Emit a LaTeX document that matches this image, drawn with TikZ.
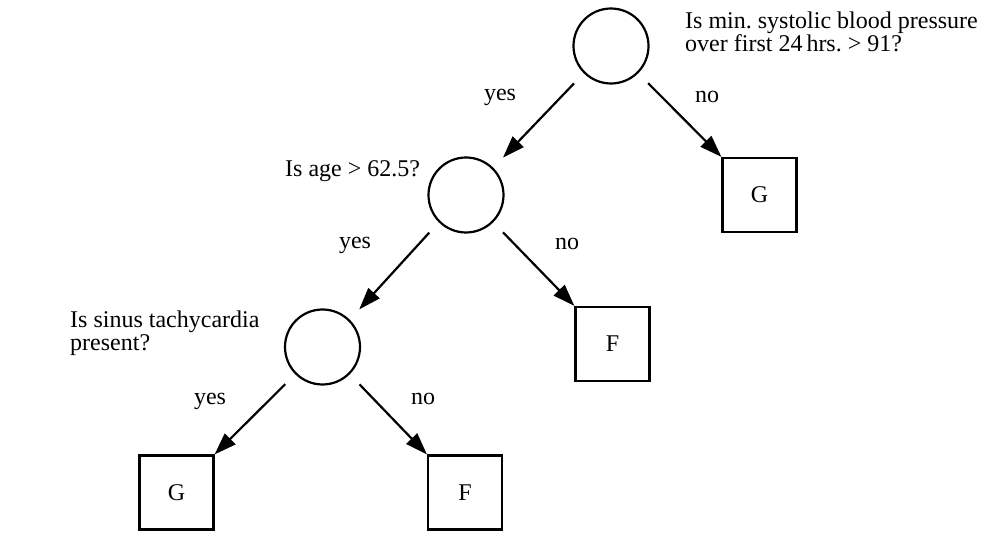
\documentclass[tikz,border=0pt]{standalone}
\usepackage{fontspec}
\setmainfont{Liberation Serif}
\usetikzlibrary{arrows.meta}
\begin{document}
\begin{tikzpicture}[x=1pt,y=-1pt,
  every node/.style={font=\fontsize{24}{23}\selectfont\frenchspacing},
  test/.style={circle, draw, line width=2.2pt, minimum size=75pt, inner sep=0pt},
  leaf/.style={rectangle, draw, line width=2.2pt, minimum size=74pt, inner sep=0pt},
  arr/.style={line width=2.2pt, -{Triangle[length=22pt,width=15pt]}, shorten <=14pt},
  arrc/.style={arr, shorten >=14pt},
  lbl/.style={anchor=base, inner sep=0pt},
  q/.style={anchor=north west, inner sep=0pt, align=left}]
\useasboundingbox (0,0) rectangle (991,534);
% tests
\node[test] (c1) at (611,46) {};
\node[test] (c2) at (466,195) {};
\node[test] (c3) at (322.5,347) {};
% leaves
\node[leaf] (g1) at (759.5,195) {G};
\node[leaf] (f1) at (612.5,344) {F};
\node[leaf] (g2) at (176.5,492.5) {G};
\node[leaf] (f2) at (465,492.5) {F};
% questions
\node[q] (q1) at (685,12) {Is min. systolic blood pressure\\over first 24\,hrs. > 91?};
\node[q, anchor=base west] (q2) at (285,177) {Is age > 62.5?};
\node[q] (q3) at (70,311) {Is sinus tachycardia\\present?};
% connectors
\draw[arrc] (c1.-135) -- (c2.45);
\draw[arr] (c1.-45) -- (g1.north west);
\draw[arrc] (c2.-135) -- (c3.45);
\draw[arr] (c2.-45) -- (f1.north west);
\draw[arr] (c3.-135) -- (g2.north east);
\draw[arr] (c3.-45) -- (f2.north west);
% labels
\node[lbl] (y1) at (500,101) {yes};
\node[lbl] (n1) at (707,103) {no};
\node[lbl] (y2) at (355,249) {yes};
\node[lbl] (n2) at (567,250) {no};
\node[lbl] (y3) at (210,405) {yes};
\node[lbl] (n3) at (423,405) {no};
\end{tikzpicture}
\end{document}
